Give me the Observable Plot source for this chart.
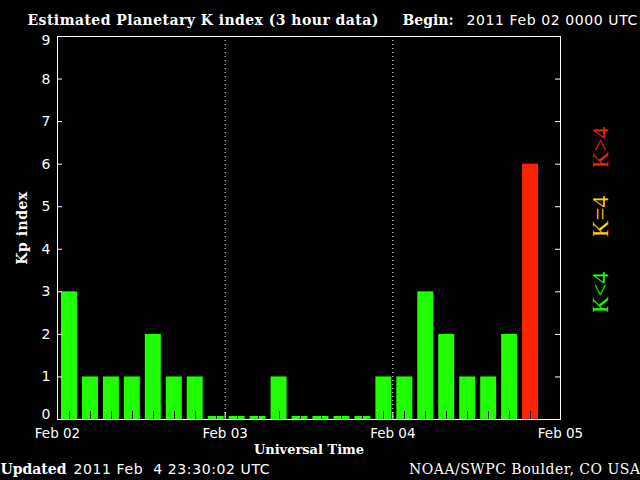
<!DOCTYPE html>
<html>
<head>
<meta charset="utf-8">
<script src="https://cdn.jsdelivr.net/npm/d3@7"></script>
<script src="https://cdn.jsdelivr.net/npm/@observablehq/plot@0.6"></script>
<style>
  html, body { margin: 0; padding: 0; background: #000; }
  #chart svg { display: block; background: #000; }
  g[aria-description="sans-wide"] { letter-spacing: 0.6px; }
  g[aria-description="serif-wide"] { letter-spacing: 0.5px; }
  g[aria-description="title"] { letter-spacing: 0.45px; }
</style>
</head>
<body>
<div id="chart"></div>
<script>
// ---- data ----
const startTime = "2011-02-02T00:00:00Z";
const endTime = "2011-02-05T00:00:00Z";
const intervalHours = 3;
const kpValues = [3, 1, 1, 1, 2, 1, 1, 0, 0, 0, 1, 0, 0, 0, 0, 1, 1, 3, 2, 1, 1, 2, 6];
const dayTicks = ["2011-02-02", "2011-02-03", "2011-02-04", "2011-02-05"];
const dayDividers = ["2011-02-03", "2011-02-04"];
const yTicks = [0, 1, 2, 3, 4, 5, 6, 7, 8, 9];
const legendLabels = ["K<4", "K=4", "K>4"];
const titleText = "Estimated Planetary K index (3 hour data)";
const beginLabel = "Begin:";
const beginValue = "2011 Feb 02 0000 UTC";
const updatedLabel = "Updated";
const updatedValue = "2011 Feb\u00a0 4 23:30:02 UTC";
const creditText = "NOAA/SWPC Boulder, CO USA";
const yLabel = "Kp index";
const xLabel = "Universal Time";

// ---- styles ----
const GREEN = "#1eff00", YELLOW = "#ffd400", RED = "#ff2200";
const SANS = "DejaVu Sans";
const SERIF = "DejaVu Serif";
const colorFor = (k) => (k < 4 ? GREEN : k === 4 ? YELLOW : RED);

const t0 = new Date(startTime).getTime();
const H = 3600 * 1000;
const rows = kpValues.map((kp, i) => ({
  start: new Date(t0 + i * intervalHours * H),
  end: new Date(t0 + (i + 1) * intervalHours * H),
  kp
}));
const zeroRows = rows.filter((d) => d.kp === 0);

const W = 640, HT = 480;
const mL = 57, mR = 80, mT = 36, mB = 61;
const frameW = W - mL - mR, frameH = HT - mT - mB;
const slotW = frameW / 24;

const legendMarks = legendLabels.map((lab, i) =>
  Plot.text([lab], {
    text: (d) => d, frameAnchor: "top-right", dx: 40, dy: [256, 180, 111][i],
    rotate: -90, textAnchor: "middle", lineAnchor: "middle",
    fill: [GREEN, YELLOW, RED][i], fontFamily: "Liberation Serif", fontSize: 23
  })
);

const yAxisCommon = { tickSize: 0, tickPadding: 7, fontSize: 14, fontFamily: SANS, fill: "#fff", label: null };

const chart = Plot.plot({
  width: W, height: HT,
  marginLeft: mL, marginRight: mR, marginTop: mT, marginBottom: mB,
  style: { background: "#000", color: "#fff" },
  x: { type: "utc", domain: [new Date(startTime), new Date(endTime)] },
  y: { domain: [0, 9] },
  marks: [
    Plot.rectY(rows, { x1: "start", x2: "end", y1: 0, y2: "kp", fill: (d) => colorFor(d.kp), insetLeft: 4, insetRight: 1 }),
    Plot.rectY(zeroRows, { x1: "start", x2: "end", y1: 0, y2: 0, fill: GREEN, insetLeft: 4, insetRight: 1, insetTop: -3 }),
    Plot.rectY(rows, { x1: "start", x2: "end", y1: 0, y2: 0, fill: "#000", insetLeft: 12, insetRight: slotW - 13, insetTop: -8, shapeRendering: "crispEdges" }),
    Plot.ruleX(dayDividers, { x: (d) => new Date(d), stroke: "#fff", strokeDasharray: "1,3" }),
    Plot.tickY(yTicks, { y: (d) => d, stroke: "#fff", insetRight: frameW - 5 }),
    Plot.tickY(yTicks, { y: (d) => d, stroke: "#fff", insetLeft: frameW - 5 }),
    Plot.tickX(dayTicks, { x: (d) => new Date(d), stroke: "#fff", insetTop: frameH - 7 }),
    Plot.frame({ stroke: "#fff" }),
    Plot.axisY({ ...yAxisCommon, ticks: yTicks.slice(1, -1) }),
    Plot.axisY({ ...yAxisCommon, ticks: yTicks.slice(0, 1), dy: -5 }),
    Plot.axisY({ ...yAxisCommon, ticks: yTicks.slice(-1), dy: 4 }),
    Plot.axisX({ ticks: dayTicks.map((d) => new Date(d)), tickSize: 0, tickPadding: 9, tickFormat: d3.utcFormat("%b %d"), fontSize: 13.5, fontFamily: SANS, fill: "#fff", label: null }),
    // axis titles
    Plot.text([yLabel], { text: (d) => d, frameAnchor: "left", dx: -31, rotate: -90, textAnchor: "middle", lineAnchor: "bottom", fontFamily: SERIF, fontWeight: "bold", fontSize: 14, fill: "#fff", ariaDescription: "serif-wide" }),
    Plot.text([xLabel], { text: (d) => d, frameAnchor: "bottom", dy: 34, textAnchor: "middle", lineAnchor: "bottom", fontFamily: SERIF, fontWeight: "bold", fontSize: 13, fill: "#fff" }),
    // header
    Plot.text([titleText], { text: (d) => d, frameAnchor: "top-left", dx: 27 - mL, dy: 24 - mT, textAnchor: "start", lineAnchor: "bottom", fontFamily: SERIF, fontWeight: "bold", fontSize: 14, fill: "#fff", ariaDescription: "title" }),
    Plot.text([beginLabel], { text: (d) => d, frameAnchor: "top-left", dx: 402 - mL, dy: 24 - mT, textAnchor: "start", lineAnchor: "bottom", fontFamily: SERIF, fontWeight: "bold", fontSize: 14, fill: "#fff" }),
    Plot.text([beginValue], { text: (d) => d, frameAnchor: "top-left", dx: 466 - mL, dy: 24 - mT, textAnchor: "start", lineAnchor: "bottom", fontFamily: SANS, fontSize: 14, fill: "#fff", ariaDescription: "sans-wide" }),
    // footer
    Plot.text([updatedLabel], { text: (d) => d, frameAnchor: "bottom-left", dx: 0 - mL, dy: 473 - (HT - mB), textAnchor: "start", lineAnchor: "bottom", fontFamily: SERIF, fontWeight: "bold", fontSize: 14, fill: "#fff" }),
    Plot.text([updatedValue], { text: (d) => d, frameAnchor: "bottom-left", dx: 73 - mL, dy: 473 - (HT - mB), textAnchor: "start", lineAnchor: "bottom", fontFamily: SANS, fontSize: 14, fill: "#fff", ariaDescription: "sans-wide" }),
    Plot.text([creditText], { text: (d) => d, frameAnchor: "bottom-right", dx: mR, dy: 473 - (HT - mB), textAnchor: "end", lineAnchor: "bottom", fontFamily: SERIF, fontSize: 14, fill: "#fff", ariaDescription: "serif-wide" }),
    ...legendMarks
  ]
});
document.getElementById("chart").append(chart);
</script>
</body>
</html>
